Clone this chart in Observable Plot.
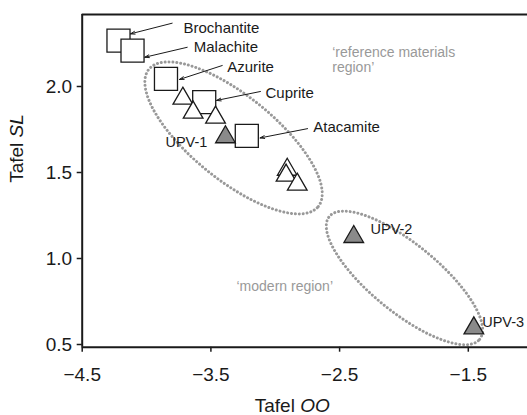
<!DOCTYPE html>
<html><head><meta charset="utf-8">
<script src="https://cdn.jsdelivr.net/npm/d3@7"></script>
<script src="https://cdn.jsdelivr.net/npm/@observablehq/plot@0.6"></script>
<style>body{margin:0;background:#fff;overflow:hidden} svg{display:block}</style>
</head><body><div id="chart"></div>
<script>
// ---- data ----
const xTicks = [-4.5, -3.5, -2.5, -1.5];
const yTicks = [0.5, 1.0, 1.5, 2.0];
const xDomain = [-4.5, -1.04];
const yDomain = [0.4843, 2.4186];

// reference minerals (squares)
const mineralNames = ["Brochantite", "Malachite", "Azurite", "Cuprite", "Atacamite"];
const mineralOO = [-4.218, -4.109, -3.849, -3.552, -3.221];
const mineralSL = [2.267, 2.209, 2.044, 1.909, 1.713];
// label anchors and arrow ends for mineral names
const mineralLabelOO = [-3.713, -3.633, -3.373, -3.076, -2.705];
const mineralLabelSL = [2.312, 2.203, 2.083, 1.932, 1.734];
const arrowFromOO = [-3.801, -3.684, -3.412, -3.115, -2.749];
const arrowFromSL = [2.368, 2.228, 2.122, 1.971, 1.755];
const arrowToOO = [-4.125, -4.014, -3.744, -3.456, -3.118];
const arrowToSL = [2.306, 2.170, 2.041, 1.919, 1.701];

// other reference samples (open triangles)
const refOO = [-3.718, -3.638, -3.464, -2.907, -2.916, -2.829];
const refSL = [1.930, 1.849, 1.820, 1.517, 1.483, 1.430];

// UPV samples (grey triangles)
const upvNames = ["UPV-1", "UPV-2", "UPV-3"];
const upvOO = [-3.387, -2.390, -1.457];
const upvSL = [1.706, 1.126, 0.595];
const upvLabelOO = [-3.853, -2.260, -1.392];
const upvLabelSL = [1.647, 1.144, 0.601];

// region annotations
const regionNames = ["\u2018reference materials\nregion\u2019", "\u2018modern region\u2019"];
const regionOO = [-2.557, -3.301];
const regionSL = [2.083, 0.810];

// region ellipses: centre, half major axis vector, half minor axis vector (data units)
const ellipseCenterOO = [-3.324, -1.996];
const ellipseCenterSL = [1.701, 0.887];
const ellipseMajorOO = [0.658, 0.584];
const ellipseMajorSL = [-0.399, -0.357];
const ellipseMinorOO = [0.205, 0.167];
const ellipseMinorSL = [0.190, 0.153];

// ---- build tables ----
const minerals = mineralNames.map((n, i) => ({name: n, x: mineralOO[i], y: mineralSL[i],
  lx: mineralLabelOO[i], ly: mineralLabelSL[i],
  x1: arrowFromOO[i], y1: arrowFromSL[i], x2: arrowToOO[i], y2: arrowToSL[i]}));
const refs = refOO.map((x, i) => ({x, y: refSL[i]}));
const upv = upvNames.map((n, i) => ({name: n, x: upvOO[i], y: upvSL[i], lx: upvLabelOO[i], ly: upvLabelSL[i]}));
const regions = regionNames.map((n, i) => ({name: n, x: regionOO[i], y: regionSL[i]}));
const ellipsePts = [];
ellipseCenterOO.forEach((cx, k) => {
  const N = 240;
  for (let j = 0; j <= N; j++) {
    const t = 2 * Math.PI * j / N;
    ellipsePts.push({id: k,
      x: cx + ellipseMajorOO[k] * Math.cos(t) + ellipseMinorOO[k] * Math.sin(t),
      y: ellipseCenterSL[k] + ellipseMajorSL[k] * Math.cos(t) + ellipseMinorSL[k] * Math.sin(t)});
  }
});

const ink = "#1a1a1a";
const chart = Plot.plot({
  width: 527, height: 415,
  marginLeft: 81.7, marginRight: 0, marginTop: 14, marginBottom: 68.3,
  style: {fontFamily: "'Liberation Sans', Arial, sans-serif", color: ink, background: "white"},
  x: {domain: xDomain},
  y: {domain: yDomain},
  marks: [
    Plot.line(ellipsePts, {x: "x", y: "y", z: "id", stroke: "#999999", strokeWidth: 3,
      strokeDasharray: "0.01 3.9", strokeLinecap: "round"}),
    Plot.text(regions, {x: "x", y: "y", text: "name", textAnchor: "start", lineAnchor: "bottom",
      fontSize: 14, lineHeight: 1.12, fill: "#999999"}),
    Plot.arrow(minerals, {x1: "x1", y1: "y1", x2: "x2", y2: "y2", stroke: ink, strokeWidth: 1,
      headLength: 7, headAngle: 35}),
    Plot.dot(minerals, {x: "x", y: "y", symbol: "square", r: 13, fill: "white", stroke: ink, strokeWidth: 1.3}),
    Plot.dot(refs, {x: "x", y: "y", symbol: "triangle", r: 7.3, fill: "white", stroke: ink, strokeWidth: 1.3}),
    Plot.dot(upv, {x: "x", y: "y", symbol: "triangle", r: 7.3, fill: "#8a8a8a", stroke: ink, strokeWidth: 1.3}),
    Plot.text(minerals, {x: "lx", y: "ly", text: "name", textAnchor: "start", lineAnchor: "bottom", fontSize: 15, fill: ink}),
    Plot.text(upv, {x: "lx", y: "ly", text: "name", textAnchor: "start", lineAnchor: "bottom", fontSize: 14.5, fill: ink}),
    Plot.axisX(xTicks, {tickSize: 5, tickPadding: 15, fontSize: 19, tickFormat: d3.format(".1f"),
      label: null, strokeWidth: 1.5, stroke: ink}),
    Plot.axisY(yTicks, {tickSize: 5, tickPadding: 5, fontSize: 19, tickFormat: d3.format(".1f"),
      label: null, strokeWidth: 1.5, stroke: ink}),
    Plot.ruleY([yDomain[0]], {stroke: ink, strokeWidth: 2}),
    Plot.ruleY([yDomain[1]], {stroke: ink, strokeWidth: 2}),
    Plot.ruleX([xDomain[0]], {stroke: ink, strokeWidth: 2}),
    Plot.text(["Tafel OO"], {frameAnchor: "bottom", text: d => d, dx: -12.6, dy: 65,
      lineAnchor: "bottom", fontSize: 19, fill: ink}),
    Plot.text(["Tafel SL"], {frameAnchor: "left", text: d => d, rotate: -90, dx: -65, dy: 2,
      lineAnchor: "middle", fontSize: 19, fill: ink})
  ]
});
document.getElementById("chart").appendChild(chart);
// italic variable names in the axis titles
d3.select(chart).selectAll("text").each(function () {
  const t = this.textContent;
  if (t === "Tafel OO" || t === "Tafel SL") {
    const v = t.slice(6);
    this.textContent = "Tafel ";
    d3.select(this).append("tspan").attr("font-style", "italic").text(v);
  }
});
</script>
</body></html>
